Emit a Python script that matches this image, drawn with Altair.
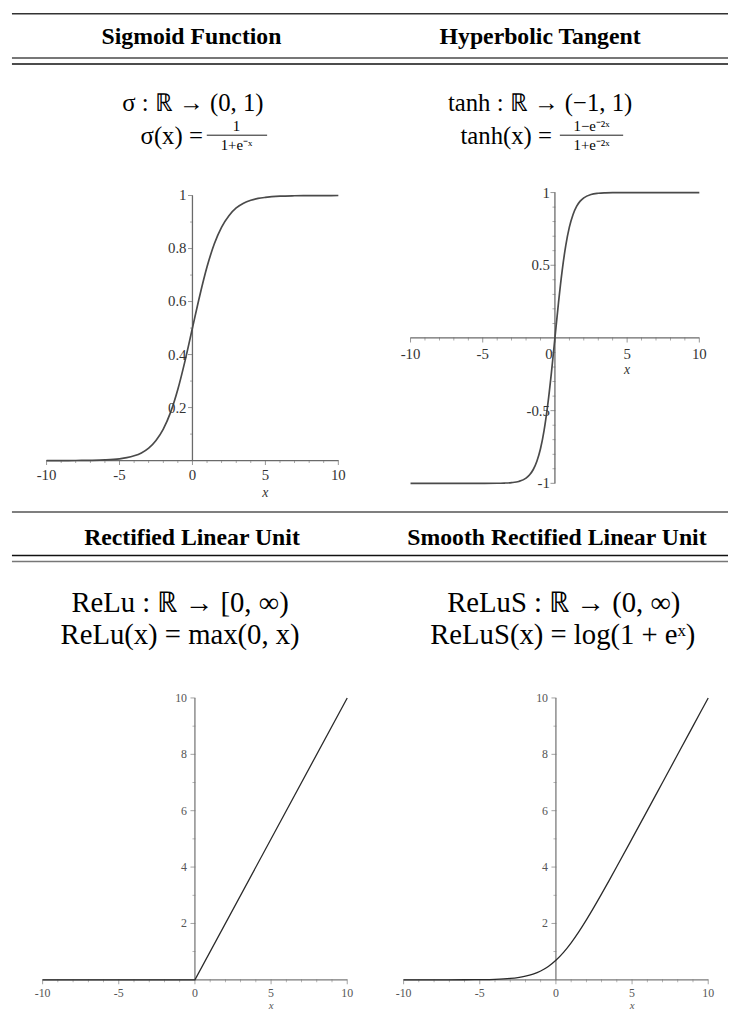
import altair as alt
import pandas as pd

FONT = "Liberation Serif"

# ---------------- data ----------------
sig_x = [-10, -9, -8, -7, -6, -5, -4.5, -4, -3.5, -3, -2.5, -2, -1.5, -1, -0.5, 0,
         0.5, 1, 1.5, 2, 2.5, 3, 3.5, 4, 4.5, 5, 6, 7, 8, 9, 10]
sig_y = [0.00005, 0.0001, 0.0003, 0.0009, 0.0025, 0.0067, 0.011, 0.018, 0.029, 0.047,
         0.076, 0.119, 0.182, 0.269, 0.378, 0.5, 0.622, 0.731, 0.818, 0.881, 0.924,
         0.953, 0.971, 0.982, 0.989, 0.993, 0.9975, 0.9991, 0.9997, 0.9999, 1.0]

tanh_x = [-10, -6, -4, -3.5, -3, -2.5, -2, -1.75, -1.5, -1.25, -1, -0.75, -0.5, -0.25, 0,
          0.25, 0.5, 0.75, 1, 1.25, 1.5, 1.75, 2, 2.5, 3, 3.5, 4, 6, 10]
tanh_y = [-1.0, -1.0, -0.9993, -0.998, -0.995, -0.987, -0.964, -0.941, -0.905, -0.848,
          -0.762, -0.635, -0.462, -0.245, 0.0, 0.245, 0.462, 0.635, 0.762, 0.848, 0.905,
          0.941, 0.964, 0.987, 0.995, 0.998, 0.9993, 1.0, 1.0]

relu_x = [-10, 0, 10]
relu_y = [0, 0, 10]

relus_x = [-10, -8, -6, -5, -4, -3, -2.5, -2, -1.5, -1, -0.5, 0, 0.5, 1, 1.5, 2, 2.5,
           3, 3.5, 4, 5, 6, 7, 8, 9, 10]
relus_y = [0.00005, 0.0003, 0.0025, 0.0067, 0.018, 0.049, 0.079, 0.127, 0.201, 0.313,
           0.474, 0.693, 0.974, 1.313, 1.701, 2.127, 2.579, 3.049, 3.530, 4.018, 5.007,
           6.002, 7.001, 8.0003, 9.0001, 10.00005]

x_major = [-10, -5, 0, 5, 10]
x_major_labels = ["-10", "-5", "0", "5", "10"]
x_minor = [-9, -8, -7, -6, -4, -3, -2, -1, 1, 2, 3, 4, 6, 7, 8, 9]

sig_y_major = [0.2, 0.4, 0.6, 0.8, 1]
sig_y_labels = ["0.2", "0.4", "0.6", "0.8", "1"]
sig_y_minor = [0.1, 0.3, 0.5, 0.7, 0.9]

tanh_y_major = [-1, -0.5, 0.5, 1]
tanh_y_labels = ["-1", "-0.5", "0.5", "1"]
tanh_y_minor = [-0.9, -0.8, -0.7, -0.6, -0.4, -0.3, -0.2, -0.1,
                0.1, 0.2, 0.3, 0.4, 0.6, 0.7, 0.8, 0.9]

relu_y_major = [2, 4, 6, 8, 10]
relu_y_labels = ["2", "4", "6", "8", "10"]
relu_y_minor = [1, 3, 5, 7, 9]

headers = ["Sigmoid Function", "Hyperbolic Tangent",
           "Rectified Linear Unit", "Smooth Rectified Linear Unit"]


def R(v):
    # reference page pixel -> chart pixel (page margin 8)
    return v - 8


layers = []


def text_layer(t, x, y, size, weight="normal", align="center", baseline="middle",
               style="normal", color="black"):
    return alt.Chart(pd.DataFrame({"t": [t]})).mark_text(
        font=FONT, fontSize=size, fontWeight=weight, align=align, baseline=baseline,
        fontStyle=style, color=color
    ).encode(x=alt.value(R(x)), y=alt.value(R(y)), text="t:N")


def hrule(y, color, width, x0=12, x1=736):
    return alt.Chart(pd.DataFrame({"a": [0]})).mark_rule(
        color=color, strokeWidth=width
    ).encode(x=alt.value(R(x0)), x2=alt.value(R(x1)), y=alt.value(R(y)))


def frac_bar(x0, x1, y):
    return alt.Chart(pd.DataFrame({"a": [0]})).mark_rule(color="black", strokeWidth=0.9).encode(
        x=alt.value(R(x0)), x2=alt.value(R(x1)), y=alt.value(R(y)))


def panel(xs, ys, cfg):
    sx = alt.Scale(domain=[-10, 10], range=[R(cfg["x0"]), R(cfg["x1"])], nice=False, zero=False)
    sy = alt.Scale(domain=cfg["ydom"], range=[R(cfg["y0"]), R(cfg["y1"])], nice=False, zero=False)

    def X(f):
        return alt.X(f, type="quantitative", scale=sx, axis=None)

    def Y(f):
        return alt.Y(f, type="quantitative", scale=sy, axis=None)

    out = []
    ac, aw = cfg["axis_color"], cfg["axis_width"]
    # axis lines
    out.append(alt.Chart(pd.DataFrame({"x": [-10], "x2": [10], "y": [0]})).mark_rule(
        color=ac, strokeWidth=aw).encode(x=X("x"), x2="x2:Q", y=Y("y")))
    out.append(alt.Chart(pd.DataFrame({"x": [0], "y": [cfg["ydom"][0]], "y2": [cfg["ydom"][1]]})).mark_rule(
        color=ac, strokeWidth=aw).encode(x=X("x"), y=Y("y"), y2="y2:Q"))
    # x ticks
    out.append(alt.Chart(pd.DataFrame({"x": x_major, "y": [0] * len(x_major)})).mark_tick(
        orient="vertical", size=5, thickness=1, color=ac, yOffset=2).encode(x=X("x"), y=Y("y")))
    out.append(alt.Chart(pd.DataFrame({"x": x_minor, "y": [0] * len(x_minor)})).mark_tick(
        orient="vertical", size=3, thickness=0.8, color=ac, yOffset=1).encode(x=X("x"), y=Y("y")))
    # y ticks
    out.append(alt.Chart(pd.DataFrame({"x": [0] * len(cfg["ymaj"]), "y": cfg["ymaj"]})).mark_tick(
        orient="horizontal", size=5, thickness=1, color=ac, xOffset=-2).encode(x=X("x"), y=Y("y")))
    out.append(alt.Chart(pd.DataFrame({"x": [0] * len(cfg["ymin"]), "y": cfg["ymin"]})).mark_tick(
        orient="horizontal", size=3, thickness=0.8, color=ac, xOffset=-1).encode(x=X("x"), y=Y("y")))
    # curve
    out.append(alt.Chart(pd.DataFrame({"x": xs, "y": ys})).mark_line(
        color=cfg["curve_color"], strokeWidth=cfg["curve_width"], interpolate=cfg["interp"]
    ).encode(x=X("x"), y=Y("y")))
    # x tick labels
    xl = pd.DataFrame({"x": x_major, "y": [0] * 5, "t": x_major_labels})
    if cfg.get("zero_left"):
        xl_main = xl[xl["t"] != "0"]
        out.append(alt.Chart(xl[xl["t"] == "0"]).mark_text(
            font=FONT, fontSize=cfg["lab_size"], color=cfg["lab_color"], baseline="middle",
            dy=cfg["xlab_dy"], dx=-6).encode(x=X("x"), y=Y("y"), text="t:N"))
    else:
        xl_main = xl
    out.append(alt.Chart(xl_main).mark_text(
        font=FONT, fontSize=cfg["lab_size"], color=cfg["lab_color"], baseline="middle",
        dy=cfg["xlab_dy"]).encode(x=X("x"), y=Y("y"), text="t:N"))
    # y tick labels
    yl = pd.DataFrame({"x": [0] * len(cfg["ymaj"]), "y": cfg["ymaj"], "t": cfg["ylab"]})
    out.append(alt.Chart(yl).mark_text(
        font=FONT, fontSize=cfg["lab_size"], color=cfg["lab_color"], baseline="middle",
        align="right", dx=cfg["ylab_dx"]).encode(x=X("x"), y=Y("y"), text="t:N"))
    # axis title "x"
    out.append(alt.Chart(pd.DataFrame({"x": [5], "y": [0], "t": ["x"]})).mark_text(
        font=FONT, fontSize=cfg["lab_size"] - 1, fontStyle="italic", color=cfg["lab_color"],
        baseline="middle", dy=cfg["xtitle_dy"]).encode(x=X("x"), y=Y("y"), text="t:N"))
    return out


top_style = dict(axis_color="#6a6a6a", axis_width=1.3, curve_color="#4a4a4a", curve_width=1.7,
                 lab_size=15, lab_color="#333333", interp="monotone")
bot_style = dict(axis_color="#7a7a7a", axis_width=1.3, curve_color="#2a2a2a", curve_width=1.3,
                 lab_size=12, lab_color="#555555", interp="monotone")

cfg_sig = dict(top_style, x0=47, x1=342, ydom=[0, 1], y0=460, y1=192, ymaj=sig_y_major,
               ymin=sig_y_minor, ylab=sig_y_labels, xlab_dy=15, xtitle_dy=33, ylab_dx=-6)
cfg_tanh = dict(top_style, x0=415, x1=707, ydom=[-1, 1], y0=483, y1=189, ymaj=tanh_y_major,
                ymin=tanh_y_minor, ylab=tanh_y_labels, xlab_dy=16, xtitle_dy=32, ylab_dx=-5,
                zero_left=True)
cfg_relu = dict(bot_style, x0=43, x1=351, ydom=[0, 10], y0=985, y1=700, ymaj=relu_y_major,
                ymin=relu_y_minor, ylab=relu_y_labels, xlab_dy=13, xtitle_dy=27, ylab_dx=-8,
                interp="linear")
cfg_relus = dict(bot_style, x0=408, x1=716, ydom=[0, 10], y0=985, y1=700, ymaj=relu_y_major,
                 ymin=relu_y_minor, ylab=relu_y_labels, xlab_dy=13, xtitle_dy=27, ylab_dx=-8)

# ---------------- table rules ----------------
layers += [
    hrule(8.2, "#333333", 1.4),
    hrule(53, "#777777", 2.0),
    hrule(59, "#111111", 1.4),
    hrule(512, "#555555", 1.6),
    hrule(556, "#111111", 1.4),
    hrule(562, "#777777", 1.6),
]

# ---------------- headers ----------------
layers += [
    text_layer(headers[0], 193.5, 39, 24, weight="bold", baseline="alphabetic"),
    text_layer(headers[1], 546, 39, 24, weight="bold", baseline="alphabetic"),
    text_layer(headers[2], 194, 545, 24, weight="bold", baseline="alphabetic"),
    text_layer(headers[3], 563, 545, 24, weight="bold", baseline="alphabetic"),
]

# ---------------- formulas ----------------
FT = 25
FB = 29
FR = 15
layers += [
    text_layer("σ : ℝ → (0, 1)", 195, 99, FT),
    text_layer("σ(x) =", 205, 132, FT, align="right"),
    text_layer("1", 239, 127, FR, baseline="alphabetic"),
    frac_bar(209, 270, 131),
    text_layer("1+e⁻ˣ", 239, 146, FR, baseline="alphabetic"),

    text_layer("tanh : ℝ → (−1, 1)", 546, 99, FT),
    text_layer("tanh(x) =", 558, 132, FT, align="right"),
    text_layer("1−e⁻²ˣ", 598, 127, FR, baseline="alphabetic"),
    frac_bar(566, 630, 131),
    text_layer("1+e⁻²ˣ", 598, 146, FR, baseline="alphabetic"),

    text_layer("ReLu : ℝ → [0, ∞)", 182, 604, FB),
    text_layer("ReLu(x) = max(0, x)", 182, 636, FB),
    text_layer("ReLuS : ℝ → (0, ∞)", 570, 604, FB),
    text_layer("ReLuS(x) = log(1 + eˣ)", 569, 636, FB),
]

# ---------------- plots ----------------
layers += panel(sig_x, sig_y, cfg_sig)
layers += panel(tanh_x, tanh_y, cfg_tanh)
layers += panel(relu_x, relu_y, cfg_relu)
layers += panel(relus_x, relus_y, cfg_relus)

chart = alt.layer(*layers).resolve_scale(
    x="independent", y="independent"
).properties(
    width=728, height=1010,
    autosize=alt.AutoSizeParams(type="none"),
    padding={"left": 0, "top": 0, "right": 0, "bottom": 0},
    background="white",
).configure_view(stroke=None)

chart.save("out.html", embed_options={"renderer": "svg", "actions": False})
